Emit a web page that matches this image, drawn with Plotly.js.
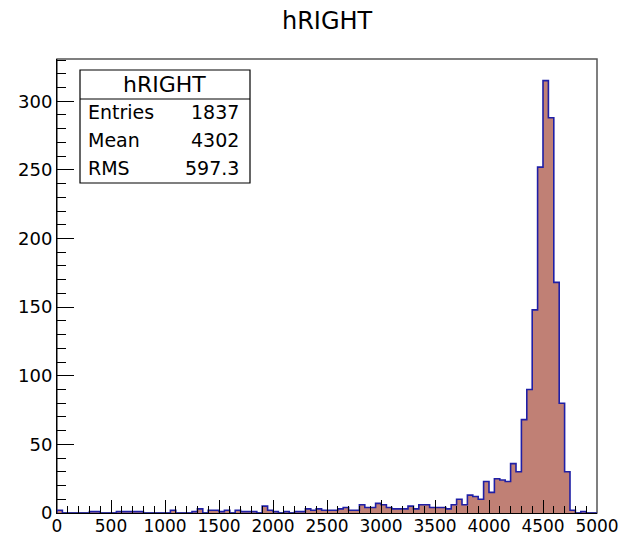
<!DOCTYPE html>
<html>
<head>
<meta charset="utf-8">
<script src="https://cdn.plot.ly/plotly-3.0.1.min.js"></script>
<style>html,body{margin:0;padding:0;background:#fff;}#chart{width:623px;height:535px;}</style>
</head>
<body>
<div id="chart"></div>
<script>
// Histogram hRIGHT: 100 bins of width 50 from 0 to 5000
const binLow = 0;
const binWidth = 50;
const counts = [
  2,0,0,0,0,0,1,1,0,0,
  0,1,1,1,1,1,0,0,0,0,
  0,2,0,0,0,1,3,0,2,2,
  1,2,0,2,1,1,1,0,5,2,
  1,0,1,0,1,1,3,2,3,2,
  2,2,3,4,2,2,6,4,4,7,
  6,4,3,3,3,5,3,6,6,4,
  4,4,3,6,10,6,13,12,10,23,
  15,25,24,23,36,30,68,90,148,252,
  315,288,168,80,30,2,0,1,0,0
];
const statsTitle = "hRIGHT";
const statsLabels = ["Entries", "Mean", "RMS"];
const statsValues = ["1837", "4302", "597.3"];
const xTickVals = [0,500,1000,1500,2000,2500,3000,3500,4000,4500,5000];
const yTickVals = [0,50,100,150,200,250,300];

// Build step outline from bin edges
const xs = [binLow], ys = [0];
counts.forEach((c, i) => { xs.push(binLow + i * binWidth); ys.push(c); });
xs.push(binLow + counts.length * binWidth); ys.push(counts[counts.length - 1]);
xs.push(binLow + counts.length * binWidth); ys.push(0);

const yMax = Math.max(...counts) * 1.05;

const trace = {
  type: 'scatter', mode: 'lines', x: xs, y: ys,
  line: {shape: 'hv', color: '#1f1fa6', width: 1.6},
  fill: 'tozeroy', fillcolor: 'rgb(192,128,117)',
  hoverinfo: 'skip'
};

const fontFam = 'DejaVu Sans, Arial, sans-serif';

// Stats box geometry (paper coords)
const W = 623, H = 535, mL = 57, mR = 26, mT = 59, mB = 22;
const pw = W - mL - mR, ph = H - mT - mB;
const px = v => (v - mL) / pw;
const py = v => (H - mB - v) / ph;

const shapes = [
  {type:'rect', xref:'paper', yref:'paper', x0:0, x1:1, y0:0, y1:1, line:{color:'#555', width:1.5}, layer:'below'},
  {type:'rect', xref:'paper', yref:'paper', x0:px(80), x1:px(250), y0:py(183), y1:py(70), line:{color:'#000', width:1.2}, fillcolor:'#fff', layer:'above'},
  {type:'line', xref:'paper', yref:'paper', x0:px(80), x1:px(250), y0:py(99), y1:py(99), line:{color:'#000', width:1}, layer:'above'}
];

const annotations = [
  {text: statsTitle, xref:'paper', yref:'paper', x:px(164), y:py(84), xanchor:'center', yanchor:'middle', showarrow:false, font:{family:fontFam, size:22, color:'#000'}}
];
const rowY = [112, 140, 168];
statsLabels.forEach((lab, i) => {
  annotations.push({text: lab, xref:'paper', yref:'paper', x:px(86), y:py(rowY[i]), xanchor:'left', yanchor:'middle', showarrow:false, font:{family:fontFam, size:19, color:'#000'}});
  annotations.push({text: statsValues[i], xref:'paper', yref:'paper', x:px(241), y:py(rowY[i]), xanchor:'right', yanchor:'middle', showarrow:false, font:{family:fontFam, size:19, color:'#000'}});
});

const layout = {
  width: W, height: H,
  margin: {l: mL, r: mR, t: mT, b: mB, pad: 0},
  paper_bgcolor: '#fff', plot_bgcolor: '#fff',
  showlegend: false,
  title: {text: 'hRIGHT', x: 0.525, xanchor: 'center', y: 0.962, yanchor: 'middle', font: {family: fontFam, size: 24, color: '#000'}},
  xaxis: {
    range: [binLow, binLow + counts.length * binWidth], tickvals: xTickVals,
    ticks: 'inside', ticklen: 13, tickwidth: 1, tickcolor: '#000',
    minor: {dtick: 100, tick0: 0, ticks: 'inside', ticklen: 7, tickcolor: '#000', showgrid: false},
    showline: true, linecolor: '#000', linewidth: 1, showgrid: false, zeroline: false,
    ticklabelstandoff: -2,
    tickfont: {family: fontFam, size: 17, color: '#000'}
  },
  yaxis: {
    range: [0, yMax], tickvals: yTickVals,
    ticks: 'inside', ticklen: 17, tickwidth: 1, tickcolor: '#000',
    minor: {dtick: 10, tick0: 0, ticks: 'inside', ticklen: 9, tickcolor: '#000', showgrid: false},
    showline: true, linecolor: '#000', linewidth: 1, showgrid: false, zeroline: false,
    ticklabelstandoff: 0,
    tickfont: {family: fontFam, size: 18, color: '#000'}
  },
  shapes: shapes,
  annotations: annotations
};

Plotly.newPlot('chart', [trace], layout, {displayModeBar: false, staticPlot: true});
</script>
</body>
</html>
